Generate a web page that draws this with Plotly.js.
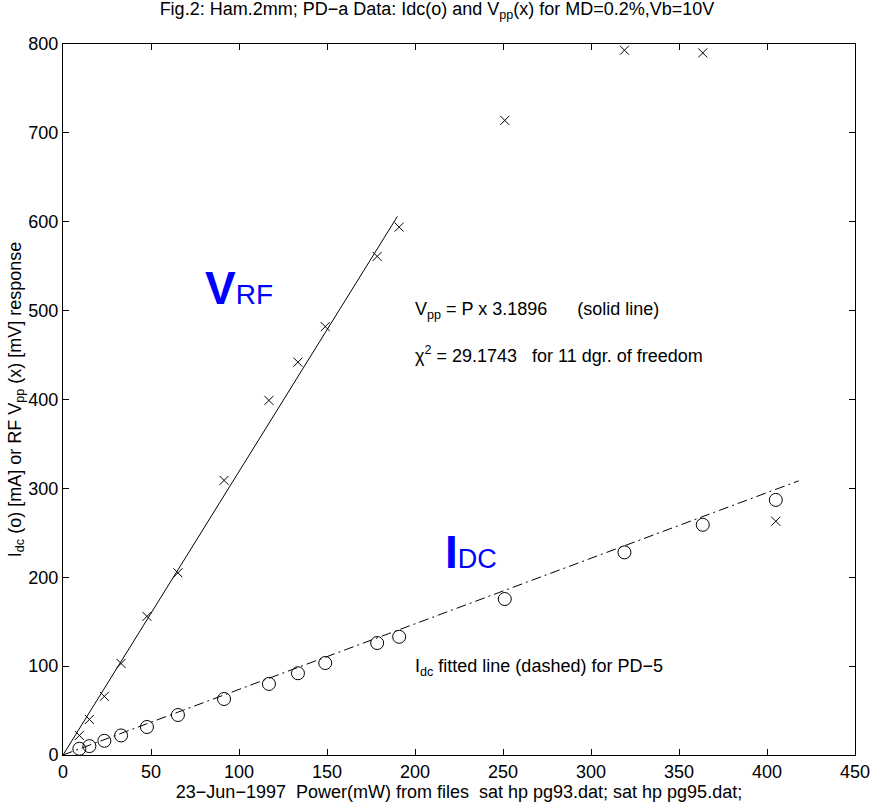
<!DOCTYPE html>
<html><head><meta charset="utf-8">
<script src="https://cdn.plot.ly/plotly-3.0.1.min.js"></script>
<style>body{margin:0;background:#fff}#c{width:874px;height:808px}</style>
</head><body><div id="c"></div>
<script>
const power = [9.3, 15, 23.5, 33, 47.7, 65.3, 91.5, 117, 133.5, 149, 178.5, 191, 251, 319, 363.5, 405];
const vpp   = [22, 40, 66, 103, 156, 205, 309, 399, 442, 482, 561, 594, 714, 793, 790, 263];
const idc   = [7, 10, 16, 22, 31.5, 45, 63, 80, 92, 103.5, 126, 133, 175.5, 228, 259, 287];
const vppFitX = [0, 190];
const vppSlope = 3.1896;
const idcFitX = [0, 418];
const idcSlope = 0.738;
const xTicks = [0, 50, 100, 150, 200, 250, 300, 350, 400, 450];
const yTicks = [0, 100, 200, 300, 400, 500, 600, 700, 800];

const F = "Liberation Sans, Arial, sans-serif";
const traces = [
  {x: vppFitX, y: vppFitX.map(v => v * vppSlope), mode: 'lines', line: {color: '#000', width: 1}, hoverinfo: 'skip'},
  {x: idcFitX, y: idcFitX.map(v => v * idcSlope), mode: 'lines', line: {color: '#000', width: 1, dash: '10px,4px,2px,4px'}, hoverinfo: 'skip'},
  {x: power, y: vpp, mode: 'markers', marker: {symbol: 'x-thin-open', size: 9, color: '#000', line: {color: '#000', width: 1}}},
  {x: power, y: idc, mode: 'markers', marker: {symbol: 'circle-open', size: 13, color: '#000', line: {color: '#000', width: 1}}}
];
const axBase = {showgrid: false, zeroline: false, showline: true, linecolor: '#000', linewidth: 1, mirror: 'ticks', ticks: 'inside', ticklen: 6, tickcolor: '#000', tickfont: {family: F, size: 18, color: '#000'}};
const layout = {
  width: 874, height: 808, showlegend: false,
  paper_bgcolor: '#fff', plot_bgcolor: '#fff',
  margin: {l: 63, r: 19, t: 44, b: 53},
  title: {text: 'Fig.2: Ham.2mm; PD\u2212a Data: Idc(o) and V<sub>pp</sub>(x) for MD=0.2%,Vb=10V', font: {family: F, size: 18, color: '#000'}, x: 0.5, xanchor: 'center', y: 0.997, yanchor: 'top'},
  xaxis: Object.assign({}, axBase, {range: [0, 450], tickvals: xTicks, ticklabelstandoff: 0, title: {text: '23\u2212Jun\u22121997  Power(mW) from files  sat hp pg93.dat; sat hp pg95.dat;', font: {family: F, size: 18, color: '#000'}, standoff: 2}}),
  yaxis: Object.assign({}, axBase, {range: [0, 800], tickvals: yTicks, title: {text: 'I<sub>dc</sub> (o) [mA] or RF V<sub>pp</sub> (x) [mV] response', font: {family: F, size: 18, color: '#000'}, standoff: 2}}),
  annotations: [
    {x: 79.5, y: 525, xref: 'x', yref: 'y', xanchor: 'left', yanchor: 'middle', showarrow: false, text: '<b>V</b><span style="font-size:28px;font-weight:normal">RF</span>', font: {family: F, size: 46, color: '#0000ff'}},
    {x: 216, y: 228, xref: 'x', yref: 'y', xanchor: 'left', yanchor: 'middle', showarrow: false, text: '<b>I</b><span style="font-size:27px;font-weight:normal">DC</span>', font: {family: F, size: 46, color: '#0000ff'}},
    {x: 199, y: 500, xref: 'x', yref: 'y', xanchor: 'left', yanchor: 'middle', showarrow: false, text: 'V<sub>pp</sub> = P x 3.1896      (solid line)', font: {family: F, size: 18, color: '#000'}},
    {x: 199, y: 451, xref: 'x', yref: 'y', xanchor: 'left', yanchor: 'middle', showarrow: false, text: '\u03c7<sup>2</sup> = 29.1743   for 11 dgr. of freedom', font: {family: F, size: 18, color: '#000'}},
    {x: 199, y: 99, xref: 'x', yref: 'y', xanchor: 'left', yanchor: 'middle', showarrow: false, text: 'I<sub>dc</sub> fitted line (dashed) for PD\u22125', font: {family: F, size: 18, color: '#000'}}
  ]
};
Plotly.newPlot('c', traces, layout, {displayModeBar: false, staticPlot: true});
</script></body></html>
